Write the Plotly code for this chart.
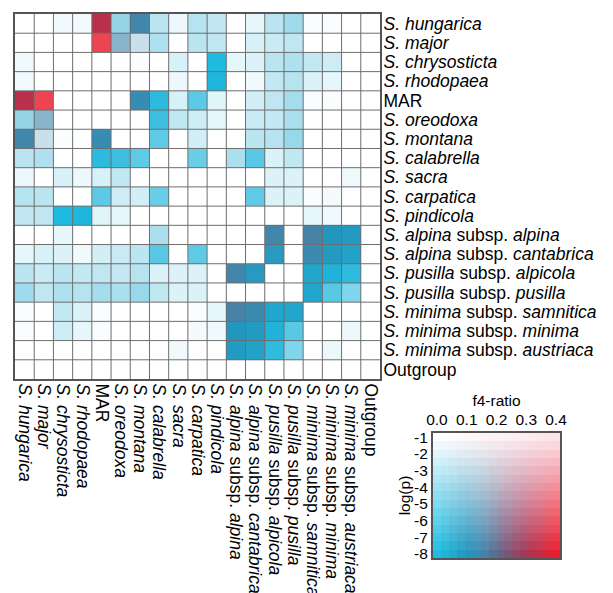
import numpy as np
import plotly.graph_objects as go

labels = ["<i>S. hungarica</i>", "<i>S. major</i>", "<i>S. chrysosticta</i>", "<i>S. rhodopaea</i>", "MAR",
          "<i>S. oreodoxa</i>", "<i>S. montana</i>", "<i>S. calabrella</i>", "<i>S. sacra</i>",
          "<i>S. carpatica</i>", "<i>S. pindicola</i>", "<i>S. alpina</i> subsp. <i>alpina</i>",
          "<i>S. alpina</i> subsp. <i>cantabrica</i>", "<i>S. pusilla</i> subsp. <i>alpicola</i>",
          "<i>S. pusilla</i> subsp. <i>pusilla</i>", "<i>S. minima</i> subsp. <i>samnitica</i>",
          "<i>S. minima</i> subsp. <i>minima</i>", "<i>S. minima</i> subsp. <i>austriaca</i>", "Outgroup"]

# upper triangle (row i, columns j > i); the matrix is symmetric
f4_upper = [
    [0, 0.01, 0.01, 0.33, 0.05, 0.15, 0.04, 0.01, 0.04, 0.04, 0, 0.01, 0.04, 0.04, 0.01, 0.01, 0, 0],
    [0, 0, 0.4, 0.14, 0.1, 0.04, 0, 0.04, 0.04, 0, 0.02, 0.03, 0.04, 0, 0, 0, 0],
    [0, 0, 0, 0, 0, 0.02, 0, 0.01, 0.01, 0.02, 0.04, 0.04, 0.03, 0.03, 0, 0],
    [0, 0, 0, 0, 0.01, 0, 0.02, 0, 0.01, 0.03, 0.04, 0.02, 0.01, 0, 0],
    [0, 0.13, 0.02, 0.02, 0.02, 0.01, 0, 0.02, 0.04, 0.04, 0.01, 0.01, 0, 0],
    [0, 0.03, 0.03, 0.03, 0.01, 0, 0.03, 0.03, 0.04, 0, 0, 0, 0],
    [0.02, 0, 0.02, 0, 0, 0.03, 0.04, 0.04, 0, 0, 0, 0],
    [0, 0.02, 0, 0.04, 0.02, 0.02, 0.03, 0, 0, 0, 0],
    [0, 0, 0, 0, 0.02, 0.02, 0, 0, 0.01, 0],
    [0, 0, 0.02, 0.02, 0.02, 0.01, 0.01, 0, 0],
    [0, 0, 0, 0, 0.01, 0.01, 0, 0],
    [0, 0.15, 0, 0.16, 0.1, 0.09, 0],
    [0.1, 0, 0.14, 0.09, 0.07, 0],
    [0, 0.06, 0.03, 0.02, 0],
    [0.06, 0.02, 0.02, 0],
    [0, 0, 0],
    [0.01, 0],
    [0],
]
logp_upper = [
    [-1, -1.45, -1.4, -8, -4.4, -8, -3.2, -1.6, -3.3, -2.9, -1, -1.8, -3.2, -4.0, -1.15, -1.15, -1, -1],
    [-1, -1, -6.7, -5.2, -2.7, -3.5, -1, -3.2, -3.0, -1, -2.25, -2.7, -3.0, -1, -1, -1, -1],
    [-1, -1, -1, -1.2, -1, -2.25, -1, -8, -1.8, -2.1, -3.2, -3.5, -2.9, -2.55, -1, -1],
    [-1, -1, -1, -1, -1.6, -1, -8, -1, -1.45, -2.9, -3.3, -2.1, -1.8, -1, -1],
    [-1, -8, -7.6, -2.25, -6.1, -2.0, -1, -2.4, -3.0, -3.8, -1.15, -1.15, -1, -1],
    [-1, -7.0, -3.0, -2.55, -1.8, -1, -2.7, -2.85, -3.6, -1, -1, -1, -1],
    [-6.0, -1, -2.4, -1, -1, -3.15, -3.3, -4.25, -1, -1, -1, -1],
    [-1, -5.7, -1, -3.6, -6.2, -2.1, -3.0, -1, -1, -1, -1],
    [-1, -1, -1, -1, -2.1, -2.1, -1, -1, -1.45, -1],
    [-1, -1, -6.0, -2.1, -2.1, -1.15, -1.3, -1, -1],
    [-1, -1, -1, -1, -1.8, -1.45, -1, -1],
    [-1, -8, -1, -8, -8, -8, -1],
    [-7.8, -1, -8, -8, -8, -1],
    [-1, -8, -8, -7.5, -1],
    [-8, -6.2, -5.0, -1],
    [-1, -1, -1],
    [-1.6, -1],
    [-1],
]

f4_ticks = [0.0, 0.1, 0.2, 0.3, 0.4]
logp_ticks = [-1, -2, -3, -4, -5, -6, -7, -8]

n = len(labels)
F4 = np.zeros((n, n))
LP = np.full((n, n), -1.0)
for i in range(n - 1):
    for k, (fv, lv) in enumerate(zip(f4_upper[i], logp_upper[i])):
        j = i + 1 + k
        F4[i, j] = F4[j, i] = fv
        LP[i, j] = LP[j, i] = lv

# bivariate colour scale
top_s = [0.0, 1.0]
top_c = np.array([[255, 255, 255], [252, 228, 234]], float)
bot_s = [0.0, 0.25, 0.375, 0.5, 0.75, 1.0]
bot_c = np.array([[30, 190, 228], [35, 150, 190], [65, 135, 172], [95, 105, 140],
                  [165, 55, 90], [235, 30, 45]], float)


def bicolor(f4, lp):
    s = np.clip(np.asarray(f4) / 0.4, 0, 1)
    t = np.clip((-1 - np.asarray(lp)) / 7.0, 0, 1)
    top = np.stack([np.interp(s, top_s, top_c[:, c]) for c in range(3)], -1)
    bot = np.stack([np.interp(s, bot_s, bot_c[:, c]) for c in range(3)], -1)
    return (top + (bot - top) * t[..., None]).round().astype(np.uint8)


grid_rgb = bicolor(F4, LP)

nl_x, nl_y = 16, 15
lf = np.linspace(f4_ticks[0], f4_ticks[-1], nl_x)
ll = np.linspace(logp_ticks[-1], logp_ticks[0], nl_y)
LF, LL = np.meshgrid(lf, ll)
leg_rgb = bicolor(LF, LL)
hx = (lf[1] - lf[0]) / 2
hy = (ll[1] - ll[0]) / 2

# page body has an 8px margin
OFF = 8
W, H = 605, 585


def dx_(a, b):
    return [(a - OFF) / W, (b - OFF) / W]


def dy_(top, bottom):
    return [1 - (bottom - OFF) / H, 1 - (top - OFF) / H]


fig = go.Figure()
fig.add_trace(go.Image(z=grid_rgb, x0=0, y0=0, dx=1, dy=1, xaxis="x", yaxis="y", hoverinfo="skip"))
fig.add_trace(go.Image(z=leg_rgb, x0=lf[0], y0=ll[0], dx=2 * hx, dy=2 * hy,
                       xaxis="x2", yaxis="y2", hoverinfo="skip"))

for k in range(1, n):
    fig.add_shape(type="line", x0=k - 0.5, x1=k - 0.5, y0=-0.5, y1=n - 0.5, xref="x", yref="y",
                  line=dict(color="#6e6e6e", width=1), layer="above")
    fig.add_shape(type="line", y0=k - 0.5, y1=k - 0.5, x0=-0.5, x1=n - 0.5, xref="x", yref="y",
                  line=dict(color="#6e6e6e", width=1), layer="above")

ff = "Liberation Sans, Arial, sans-serif"
font = dict(family=ff, size=17.5, color="black")
lfont = dict(family=ff, size=15.5, color="black")
fig.update_layout(
    width=W, height=H, margin=dict(l=0, r=0, t=0, b=0),
    paper_bgcolor="white", plot_bgcolor="white", font=font, showlegend=False,
    xaxis=dict(domain=dx_(15, 380), range=[-0.5, n - 0.5], tickvals=list(range(n)),
               ticktext=labels, tickangle=90, ticks="", showgrid=False, zeroline=False,
               showline=True, mirror=True, linecolor="#555", linewidth=2, automargin=False,
               anchor="y", tickfont=font, ticklabelstandoff=-1),
    yaxis=dict(domain=dy_(14, 379), range=[n - 0.5, -0.5], tickvals=list(range(n)),
               ticktext=labels, side="right", ticks="", showgrid=False, zeroline=False,
               showline=True, mirror=True, linecolor="#555", linewidth=2, automargin=False,
               anchor="x", scaleanchor=False, tickfont=font, ticklabelstandoff=-2),
    xaxis2=dict(domain=dx_(433, 560), range=[lf[0] - hx, lf[-1] + hx], tickvals=f4_ticks,
                ticktext=["%.1f" % v for v in f4_ticks], side="top", ticks="", showgrid=False,
                zeroline=False, showline=True, mirror=True, linecolor="#555", linewidth=2,
                automargin=False, anchor="y2", tickfont=lfont, ticklabelstandoff=0,
                title=dict(text="f4-ratio", font=lfont, standoff=0)),
    yaxis2=dict(domain=dy_(433, 558), range=[ll[0] - hy, ll[-1] + hy], tickvals=logp_ticks,
                ticktext=[str(v) for v in logp_ticks], side="left", ticks="", showgrid=False,
                zeroline=False, showline=True, mirror=True, linecolor="#555", linewidth=2,
                automargin=False, anchor="x2", scaleanchor=False, tickfont=lfont, ticklabelstandoff=0,
                title=dict(text="log(p)", font=lfont, standoff=0)),
)
fig.write_html("out.html")
